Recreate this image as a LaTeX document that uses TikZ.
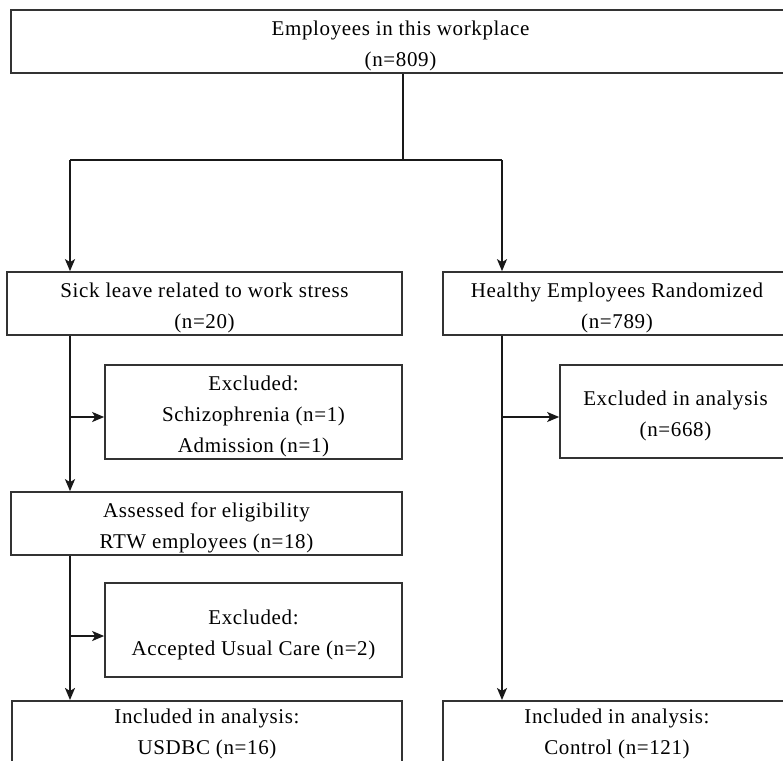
\documentclass[tikz,border=0pt]{standalone}
\usepackage{fontspec}
\setmainfont[LetterSpace=3]{Liberation Serif}
\usetikzlibrary{arrows.meta}
\newcommand\fs{\rule{0pt}{24pt}}
\tikzset{
  box/.style={draw=black!80, line width=1.7pt, align=center, inner sep=0pt,
    font=\fontsize{21}{31}\selectfont},
  arr/.style={-{Stealth[length=12pt,width=10pt,inset=3pt]}},
  lconn/.style={line width=2pt, black!90},
  rconn/.style={line width=1.6pt, black!90}
}
\begin{document}
\begin{tikzpicture}[x=1pt,y=-1pt]
\useasboundingbox (0,0) rectangle (783,760);
\node[box, minimum width=779pt, minimum height=63pt] (top) at (400.5,41.5) {\fs Employees in this workplace\\(n=809)};
\node[box, minimum width=395pt, minimum height=63pt] (sick) at (204.5,303.5) {\fs Sick leave related to work stress\\(n=20)};
\node[box, minimum width=348pt, minimum height=63pt] (healthy) at (617,303.5) {\fs Healthy Employees Randomized\\(n=789)};
\node[box, minimum width=297pt, minimum height=94pt] (exc1) at (253.5,412) {\fs Excluded:\\Schizophrenia (n=1)\\Admission (n=1)};
\node[box, minimum width=231pt, minimum height=93pt] (excR) at (675.5,411.5) {\fs Excluded in analysis\\(n=668)};
\node[box, minimum width=391pt, minimum height=63pt] (assess) at (206.5,523.5) {\fs Assessed for eligibility\\RTW employees (n=18)};
\node[box, minimum width=297pt, minimum height=94pt] (exc2) at (253.5,630) {\fs Excluded:\\Accepted Usual Care (n=2)};
\node[box, minimum width=390pt, minimum height=66pt, anchor=north] (inclL) at (207,700) {Included in analysis:\\USDBC (n=16)};
\node[box, minimum width=348pt, minimum height=66pt, anchor=north] (inclR) at (617,700) {Included in analysis:\\Control (n=121)};
\coordinate (s) at (403,160);
\coordinate (bl) at (70,160);
\coordinate (br) at (502,160);
\coordinate (j1) at (70,417);
\coordinate (j2) at (70,636);
\coordinate (j3) at (502,417);
\draw[rconn] (top.south -| s) -- (s);
\draw[rconn] (bl) -- (br);
\draw[lconn, arr] (bl) -- (bl |- sick.north);
\draw[rconn, arr] (br) -- (br |- healthy.north);
\draw[lconn, arr] (bl |- sick.south) -- (bl |- assess.north);
\draw[lconn, arr] (j1) -- (j1 -| exc1.west);
\draw[lconn, arr] (bl |- assess.south) -- (bl |- inclL.north);
\draw[lconn, arr] (j2) -- (j2 -| exc2.west);
\draw[rconn, arr] (br |- healthy.south) -- (br |- inclR.north);
\draw[rconn, arr] (j3) -- (j3 -| excR.west);
\end{tikzpicture}
\end{document}
